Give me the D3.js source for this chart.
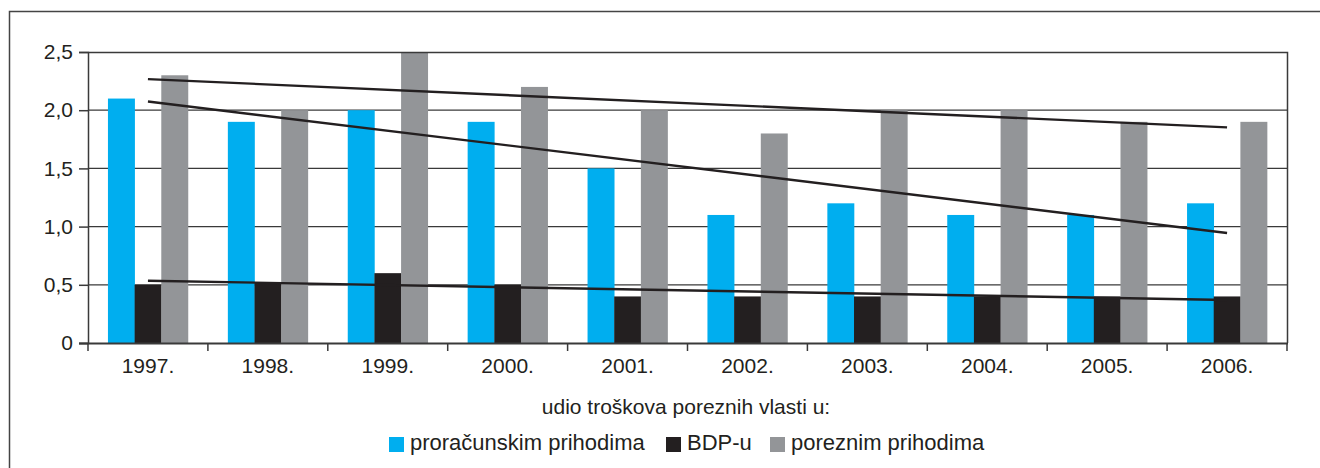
<!DOCTYPE html>
<html><head><meta charset="utf-8">
<script src="https://cdn.jsdelivr.net/npm/d3@7"></script>
<style>body{margin:0;background:#fff}svg{display:block}text{font-family:"Liberation Sans",Arial,sans-serif;fill:#231f20}</style>
</head><body>
<script>
const years = ["1997.","1998.","1999.","2000.","2001.","2002.","2003.","2004.","2005.","2006."];
const proracunskim = [2.1,1.9,2.0,1.9,1.5,1.1,1.2,1.1,1.1,1.2];
const bdp = [0.5,0.52,0.6,0.5,0.4,0.4,0.4,0.4,0.4,0.4];
const poreznim = [2.3,2.0,2.5,2.2,2.0,1.8,2.0,2.0,1.9,1.9];
const yTicks = [0,0.5,1.0,1.5,2.0,2.5];
const seriesNames = ["proračunskim prihodima","BDP-u","poreznim prihodima"];
const legendTitle = "udio troškova poreznih vlasti u:";
const colors = ["#00aeef","#231f20","#939598"];
const seriesVals = [proracunskim,bdp,poreznim];

const W=1320,H=468;
const svg=d3.select("body").append("svg").attr("width",W).attr("height",H);
// outer frame
svg.append("path").attr("d","M9.5,"+H+" V11.5 H"+W).attr("fill","none").attr("stroke","#444").attr("stroke-width",1.5);

const L=88,R=1287,T=52,B=343;
const x=d3.scaleBand().domain(years).range([L,R]);
const y=d3.scaleLinear().domain([0,2.5]).range([B,T]);
const fmt=v=>v===0?"0":d3.format(".1f")(v).replace(".",",");

// grid
svg.append("g").selectAll("line").data(yTicks.filter(v=>v>0&&v<2.5)).join("line")
 .attr("x1",L).attr("x2",R).attr("y1",d=>y(d)).attr("y2",d=>y(d))
 .attr("stroke","#3a3a3a").attr("stroke-width",1.2);

// bars
const gw=80, bw=gw/3, off=(x.bandwidth()-gw)/2;
seriesVals.forEach((vals,si)=>{
  svg.append("g").selectAll("rect").data(vals).join("rect")
   .attr("x",(d,i)=>x(years[i])+off+si*bw)
   .attr("width",bw+0.3)
   .attr("y",d=>y(d)).attr("height",d=>B-y(d))
   .attr("fill",colors[si]);
});

// plot border top/right
svg.append("path").attr("d",`M${L},${T+0.5} H${R+0.5} V${B}`).attr("fill","none").attr("stroke","#3a3a3a").attr("stroke-width",1.5);

// axes
const ya=d3.axisLeft(y).tickValues(yTicks).tickFormat(fmt).tickSize(9).tickPadding(6);
const yg=svg.append("g").attr("transform",`translate(${L},0)`).call(ya);
yg.select(".domain").attr("stroke","#3a3a3a").attr("stroke-width",1.5);
yg.selectAll(".tick line").attr("stroke","#3a3a3a").attr("stroke-width",1.5);
yg.selectAll("text").attr("font-size",21).style("font-family","Liberation Sans, Arial, sans-serif").attr("fill","#231f20");

const xa=d3.axisBottom(x).tickSize(0).tickPadding(15);
const xg=svg.append("g").attr("transform",`translate(0,${B})`).call(xa);
xg.select(".domain").remove();
xg.selectAll("text").attr("font-size",21).style("font-family","Liberation Sans, Arial, sans-serif").attr("fill","#231f20");
svg.append("line").attr("x1",L-9).attr("x2",R+1).attr("y1",B+0.5).attr("y2",B+0.5).attr("stroke","#3a3a3a").attr("stroke-width",1.8);
const bounds=years.map(d=>x(d)).concat([R]);
svg.append("g").selectAll("line").data(bounds).join("line")
 .attr("x1",d=>d).attr("x2",d=>d).attr("y1",B).attr("y2",B+8)
 .attr("stroke","#3a3a3a").attr("stroke-width",1.5);

// linear trend lines
seriesVals.forEach(vals=>{
  const n=vals.length, mx=(n-1)/2, my=d3.mean(vals);
  let sxy=0,sxx=0; vals.forEach((v,i)=>{sxy+=(i-mx)*(v-my);sxx+=(i-mx)*(i-mx);});
  const b=sxy/sxx, a=my-b*mx;
  svg.append("line")
   .attr("x1",x(years[0])+x.bandwidth()/2).attr("y1",y(a))
   .attr("x2",x(years[n-1])+x.bandwidth()/2).attr("y2",y(a+b*(n-1)))
   .attr("stroke","#231f20").attr("stroke-width",2.4);
});

// legend
svg.append("text").attr("x",686).attr("y",414).attr("text-anchor","middle").attr("font-size",21).text(legendTitle);
const lg=svg.append("g").attr("transform","translate(0,450)");
const lx=[389,666,770];
seriesNames.forEach((s,i)=>{
  lg.append("rect").attr("x",lx[i]).attr("y",-13).attr("width",15).attr("height",15).attr("fill",colors[i]);
  lg.append("text").attr("x",lx[i]+21).attr("y",0).attr("font-size",22).text(s);
});
</script>
</body></html>
